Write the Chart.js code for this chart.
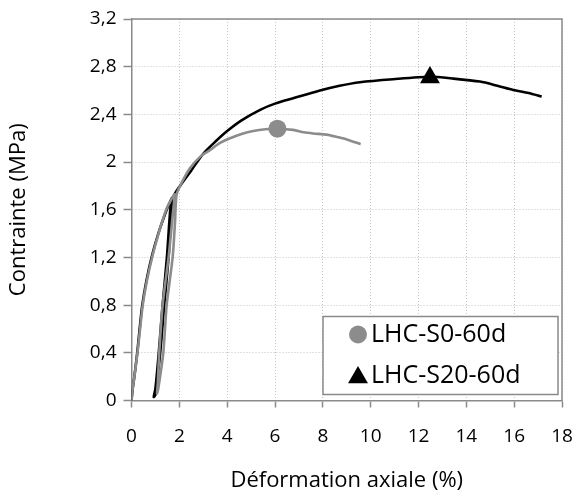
<!DOCTYPE html>
<html>
<head>
<meta charset="utf-8">
<script src="https://cdn.jsdelivr.net/npm/chart.js@4"></script>
<style>
  html, body { margin: 0; padding: 0; background: #fff; }
  #wrap { width: 576px; height: 494px; }
</style>
</head>
<body>
<div id="wrap"><canvas id="chart" width="576" height="494"></canvas></div>
<script>
// LHC-S0-60d (gray), strain in %, stress in MPa
const strainS0 = [0, 0.05, 0.12, 0.25, 0.36, 0.47, 0.64, 0.86, 1.13, 1.45, 1.65, 1.8,
  1.72, 1.55, 1.3, 1.16, 1.1, 1.07,
  1.12, 1.33, 1.47, 1.72, 1.82, 1.88,
  2.03, 2.45, 2.9, 3.28, 3.7, 4.12, 4.6, 5.09, 5.6, 6.1, 6.76, 7.2, 7.6, 8.16, 8.6, 9.0, 9.58];
const stressS0 = [0, 0.1, 0.2, 0.4, 0.6, 0.8, 1.0, 1.2, 1.4, 1.6, 1.68, 1.73,
  1.55, 1.2, 0.8, 0.4, 0.15, 0.06,
  0.1, 0.4, 0.8, 1.2, 1.5, 1.72,
  1.8, 1.95, 2.05, 2.1, 2.16, 2.2, 2.235, 2.26, 2.275, 2.28, 2.27, 2.25, 2.24, 2.23, 2.21, 2.19, 2.15];

// LHC-S20-60d (black)
const strainS20 = [0, 0.05, 0.12, 0.24, 0.34, 0.45, 0.62, 0.84, 1.12, 1.47, 1.6, 1.7,
  1.62, 1.48, 1.3, 1.14, 1.0, 0.93,
  1.0, 1.2, 1.37, 1.55, 1.68, 1.78,
  2.03, 2.5, 3.0, 3.5, 4.0, 4.6, 5.4, 6.0, 6.76, 7.88, 8.7, 9.55, 10.94, 12.48, 13.46, 14.57, 15.3, 15.96, 16.6, 17.15];
const stressS20 = [0, 0.1, 0.2, 0.4, 0.6, 0.8, 1.0, 1.2, 1.4, 1.6, 1.66, 1.7,
  1.6, 1.2, 0.8, 0.4, 0.1, 0.03,
  0.05, 0.4, 0.8, 1.2, 1.6, 1.72,
  1.8, 1.93, 2.07, 2.17, 2.26, 2.35, 2.44, 2.49, 2.535, 2.6, 2.64, 2.67, 2.695, 2.715, 2.70, 2.675, 2.64, 2.605, 2.58, 2.55];

// peak markers
const peakS0 = [6.1, 2.28];
const peakS20 = [12.48, 2.71];

const seriesNames = ['LHC-S0-60d', 'LHC-S20-60d'];
const xTickLabels = ['0', '2', '4', '6', '8', '10', '12', '14', '16', '18'];
const yTickLabels = ['0', '0,4', '0,8', '1,2', '1,6', '2', '2,4', '2,8', '3,2'];

const GRAY = '#8c8c8c';
const AXIS = '#8a8a8a';
const FONT = "'Open Sans', sans-serif";

function pts(xs, ys) {
  return xs.map((x, i) => ({ x: x, y: ys[i] }));
}

// top + right frame of the plot
const framePlugin = {
  id: 'frame',
  beforeDatasetsDraw(chart) {
    const a = chart.chartArea, ctx = chart.ctx;
    ctx.save();
    ctx.strokeStyle = AXIS;
    ctx.lineWidth = 1.5;
    ctx.beginPath();
    ctx.moveTo(a.left, a.top);
    ctx.lineTo(a.right, a.top);
    ctx.lineTo(a.right, a.bottom);
    ctx.stroke();
    ctx.restore();
  }
};

// legend box inside the plot, bottom right
const insideLegend = {
  id: 'insideLegend',
  afterDatasetsDraw(chart) {
    const a = chart.chartArea, ctx = chart.ctx;
    const w = 235, h = 78;
    const x0 = a.right - 4 - w, y0 = a.bottom - 6 - h;
    ctx.save();
    ctx.fillStyle = '#fff';
    ctx.fillRect(x0, y0, w, h);
    ctx.strokeStyle = AXIS;
    ctx.lineWidth = 1.5;
    ctx.strokeRect(x0, y0, w, h);
    ctx.font = "25px " + FONT;
    ctx.textBaseline = 'middle';
    [0, 1].forEach(i => {
      const ds = chart.data.datasets[i];
      const cy = y0 + 18 + i * 41;
      ctx.fillStyle = ds.backgroundColor;
      ctx.strokeStyle = ds.borderColor;
      Chart.helpers.drawPoint(ctx, {
        pointStyle: ds.pointStyle, radius: ds.pointRadius, rotation: 0, borderWidth: 0
      }, x0 + 35, cy + (i === 1 ? 2 : 0));
      ctx.fillStyle = '#000';
      ctx.fillText(ds.label, x0 + 48, cy);
    });
    ctx.restore();
  }
};

new Chart(document.getElementById('chart'), {
  type: 'scatter',
  data: {
    datasets: [
      { label: seriesNames[0], data: [{ x: peakS0[0], y: peakS0[1] }], pointStyle: 'circle',
        pointRadius: 9, backgroundColor: GRAY, borderColor: GRAY, borderWidth: 0, showLine: false },
      { label: seriesNames[1], data: [{ x: peakS20[0], y: peakS20[1] }], pointStyle: 'triangle',
        pointRadius: 11.5, backgroundColor: '#000', borderColor: '#000', borderWidth: 0, showLine: false },
      { label: seriesNames[0] + ' line', data: pts(strainS0, stressS0), showLine: true,
        borderColor: GRAY, borderWidth: 2.6, pointRadius: 0, tension: 0.25 },
      { label: seriesNames[1] + ' line', data: pts(strainS20, stressS20), showLine: true,
        borderColor: '#000', borderWidth: 2.6, pointRadius: 0, tension: 0.25 }
    ]
  },
  options: {
    responsive: false,
    animation: false,
    layout: { padding: { left: 0, right: 14, top: 19, bottom: 0 } },
    plugins: { legend: { display: false }, tooltip: { enabled: false } },
    scales: {
      x: {
        type: 'linear', min: 0, max: 18,
        afterFit(s) { s.height = 93.5; s.paddingLeft = 0; s.paddingRight = 0; },
        ticks: { stepSize: 2, padding: 18, color: '#000', font: { family: FONT, size: 19 },
          callback: (v) => xTickLabels[Math.round(v / 2)] },
        grid: { color: '#c4c4c4', lineWidth: 1, tickColor: AXIS, tickLength: 7, tickWidth: 1.5 },
        border: { color: AXIS, width: 1.5, dash: [1, 2] },
        title: { display: true, text: 'Déformation axiale (%)', color: '#000',
          font: { family: FONT, size: 22 }, padding: { top: 0, bottom: 0 } }
      },
      y: {
        type: 'linear', min: 0, max: 3.2,
        afterFit(s) { s.width = 131.5; s.paddingTop = 0; s.paddingBottom = 0; },
        ticks: { stepSize: 0.4, padding: 7, color: '#000', font: { family: FONT, size: 19 },
          callback: (v) => yTickLabels[Math.round(v / 0.4)] },
        grid: { color: '#c4c4c4', lineWidth: 1, tickColor: AXIS, tickLength: 8, tickWidth: 1.5 },
        border: { color: AXIS, width: 1.5, dash: [1, 2] },
        title: { display: true, text: 'Contrainte (MPa)', color: '#000',
          font: { family: FONT, size: 22 }, padding: { top: 6, bottom: 0 } }
      }
    }
  },
  plugins: [framePlugin, insideLegend]
});
</script>
</body>
</html>
